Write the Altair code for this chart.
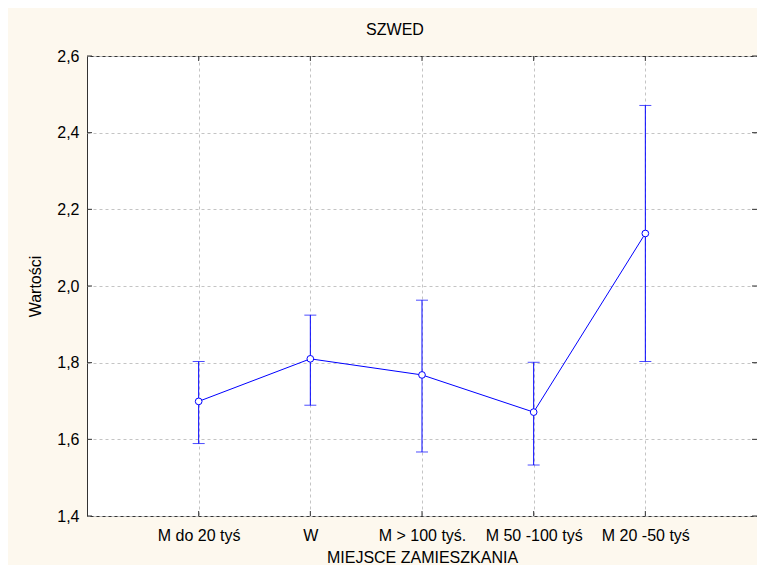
import altair as alt
import pandas as pd

categories = ["M do 20 tyś", "W", "M > 100 tyś.", "M 50 -100 tyś", "M 20 -50 tyś"]
means = [1.699, 1.810, 1.768, 1.671, 2.137]
upper = [1.803, 1.924, 1.963, 1.801, 2.471]
lower = [1.589, 1.689, 1.567, 1.533, 1.803]
y_ticks = [1.4, 1.6, 1.8, 2.0, 2.2, 2.4, 2.6]

FONT = "Liberation Sans, Arial, sans-serif"
BLUE = "#0000FF"
FRAME = "#333333"

df = pd.DataFrame({"cat": categories, "mean": means, "lo": lower, "hi": upper})
caps = pd.DataFrame({"cat": categories * 2, "v": lower + upper})
yt = pd.DataFrame({"v": y_ticks})
xt = pd.DataFrame({"cat": categories})

W, H = 670, 460
TL = 5

xscale = alt.Scale(type="point", domain=categories, padding=1)
yscale = alt.Scale(domain=[1.4, 2.6], nice=False, zero=False)

xaxis = alt.Axis(
    title="MIEJSCE ZAMIESZKANIA",
    labelAngle=0, ticks=False, domain=False,
    grid=True, gridDash=[3, 3], gridColor="#C4C4C4",
    labelPadding=11, titlePadding=6,
)
yaxis = alt.Axis(
    title="Wartości",
    values=y_ticks, ticks=False, domain=False,
    grid=True, gridDash=[3, 3], gridColor="#C4C4C4",
    labelExpr="replace(format(datum.value, '.1f'), '.', ',')",
    labelPadding=8, titlePadding=13,
)

def X(field="cat"):
    return alt.X(f"{field}:N", scale=xscale, axis=xaxis, sort=categories)

def Y(field):
    return alt.Y(f"{field}:Q", scale=yscale, axis=yaxis)

bars = alt.Chart(df).mark_rule(color=BLUE, strokeWidth=1).encode(
    x=X(), y=Y("lo"), y2="hi"
)
capm = alt.Chart(caps).mark_tick(color=BLUE, size=12, thickness=1).encode(
    x=X(), y=Y("v")
)
line = alt.Chart(df).mark_line(color=BLUE, strokeWidth=1).encode(
    x=X(), y=Y("mean")
)
pts = alt.Chart(df).mark_point(
    shape="circle", filled=True, fill="white", stroke=BLUE, strokeWidth=1, size=45, opacity=1
).encode(x=X(), y=Y("mean"))

left_ticks = alt.Chart(yt).mark_rule(color=FRAME).encode(
    y=Y("v"), x=alt.value(0), x2=alt.value(TL)
)
right_ticks = alt.Chart(yt).mark_rule(color=FRAME).encode(
    y=Y("v"), x=alt.value(W - TL), x2=alt.value(W)
)
bottom_ticks = alt.Chart(xt).mark_rule(color=FRAME).encode(
    x=X(), y=alt.value(H - TL), y2=alt.value(H)
)
top_ticks = alt.Chart(xt).mark_rule(color=FRAME).encode(
    x=X(), y=alt.value(0), y2=alt.value(TL)
)

chart = alt.layer(
    left_ticks, right_ticks, bottom_ticks, top_ticks, bars, capm, line, pts
).properties(
    width=W, height=H,
    title=alt.TitleParams("SZWED", fontSize=16, fontWeight="normal", font=FONT,
                          color="#000000", offset=10, dx=-27, anchor="middle"),
    autosize=alt.AutoSizeParams(type="none"),
    padding={"left": 79, "top": 48, "right": 0, "bottom": 49},
    background="#FDF8EE",
).configure_view(
    fill="white", stroke=FRAME, strokeWidth=1
).configure_axis(
    labelFont=FONT, titleFont=FONT, labelFontSize=16, titleFontSize=16,
    labelColor="#000000", titleColor="#000000", titleFontWeight="normal",
)

chart.save("out.html", embed_options={"renderer": "svg", "actions": False})
